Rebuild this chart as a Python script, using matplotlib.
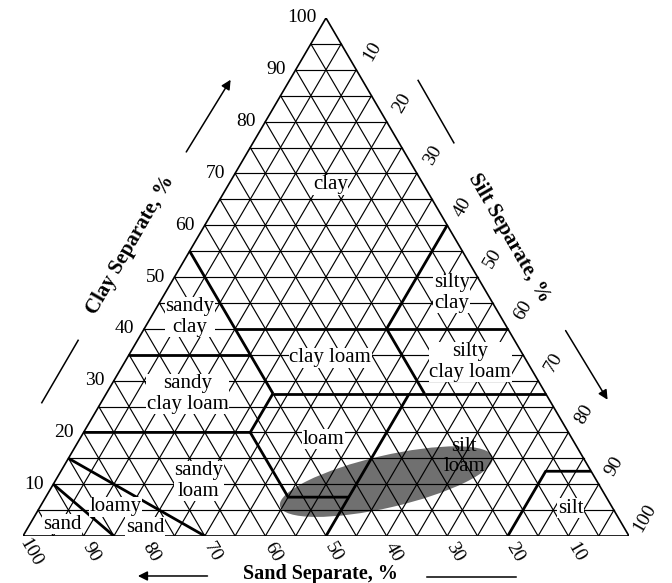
import matplotlib
matplotlib.use("Agg")
import matplotlib.pyplot as plt
from matplotlib.patches import Ellipse
import numpy as np

plt.rcParams['font.family'] = ['Liberation Serif', 'DejaVu Serif']

# ---- data (all in percent) ----
ticks = [10, 20, 30, 40, 50, 60, 70, 80, 90, 100]
grid_step = 5

# texture class boundaries, each a polyline of (sand, clay) points
boundaries = [
    [(45, 55), (45, 27.5)],
    [(65, 35), (45, 35)],
    [(45, 40), (0, 40)],
    [(0, 60), (20, 40), (20, 27.5)],
    [(45, 27.5), (0, 27.5)],
    [(45, 27.5), (52.5, 20), (80, 20)],
    [(52.5, 20), (52.5, 7.5), (42.5, 7.5)],
    [(22.5, 27.5), (50, 0)],
    [(20, 0), (7.5, 12.5), (0, 12.5)],
    [(85, 15), (70, 0)],
    [(90, 10), (85, 0)],
]

# class names and where they sit (sand, clay)
class_names = ['clay', 'sandy\nclay', 'silty\nclay', 'clay loam', 'silty\nclay loam',
               'sandy\nclay loam', 'loam', 'silt\nloam', 'sandy\nloam', 'loamy',
               'sand', 'sand', 'silt']
class_pos = [(15.4, 67.8), (51.3, 42.3), (5.8, 46.9), (32.1, 34.4), (9.4, 33.6),
             (59.1, 27.4), (41.1, 18.7), (19.5, 15.4), (65.7, 10.6), (81.9, 5.6),
             (79.0, 1.7), (92.4, 2.3), (6.9, 5.4)]

# shaded zone (sand, clay at centre; size in % of the base)
zone_center = (34.8, 10.5)
zone_size = (36.0, 8.6)
zone_angle = 13

H = 0.855  # height of the triangle relative to its base


def xy(sand, clay):
    silt = 100 - sand - clay
    return silt + clay / 2.0, clay * H


fig = plt.figure(figsize=(6.72, 5.83), dpi=100)
ax = fig.add_axes([23 / 672, 47 / 583, 606 / 672, 518 / 583])
ax.set_xlim(0, 100)
ax.set_ylim(0, 100 * H)
ax.axis('off')

# shaded zone under the grid
cx, cy = xy(*zone_center)
ax.add_patch(Ellipse((cx, cy), zone_size[0], zone_size[1], angle=zone_angle,
                     facecolor='#707070', edgecolor='none', zorder=1))

# fine grid
for k in range(grid_step, 100, grid_step):
    for a, b in [((100 - k, k), (0, k)),          # clay
                 ((k, 0), (k, 100 - k)),          # sand
                 ((100 - k, 0), (0, 100 - k))]:   # silt
        p, q = xy(*a), xy(*b)
        ax.plot([p[0], q[0]], [p[1], q[1]], color='black', lw=0.85, zorder=2)

# outline
tri = [xy(100, 0), xy(0, 0), xy(0, 100), xy(100, 0)]
ax.plot([p[0] for p in tri], [p[1] for p in tri], color='black', lw=1.2, zorder=3)

# class boundaries
for line in boundaries:
    pts = np.array([xy(s, c) for s, c in line])
    ax.plot(pts[:, 0], pts[:, 1], color='black', lw=2.0, zorder=3,
            solid_capstyle='butt')

# class labels
for name, (s, c) in zip(class_names, class_pos):
    x, y = xy(s, c)
    box = dict(facecolor='white', edgecolor='none', pad=0.5)
    if name == 'silt\nloam':
        box = None
    ax.text(x, y, name, ha='center', va='center', fontsize=15, zorder=4,
            linespacing=1.1, bbox=box)

# clay ticks on the left edge
for t in ticks:
    x, y = xy(100 - t, t)
    ax.text(x - 1.6, y, str(t), ha='right', va='center', fontsize=14)

# sand ticks along the base
for t in ticks:
    x, y = xy(t, 0)
    ax.text(x + 1.2, y - 2.7, str(t), ha='center', va='center', fontsize=14,
            rotation=-60, rotation_mode='anchor')

# silt ticks on the right edge
for t in ticks:
    x, y = xy(0, 100 - t)
    ax.text(x + 2.6, y + 3.0, str(t), ha='center', va='center', fontsize=14,
            rotation=60, rotation_mode='anchor')

# axis titles with their arrows
ax.text(17.7, 48.0, 'Clay Separate, %', rotation=60, ha='center', va='center',
        fontsize=15, fontweight='bold', rotation_mode='anchor')
ax.text(80.2, 49.2, 'Silt Separate, %', rotation=-60, ha='center', va='center',
        fontsize=15, fontweight='bold', rotation_mode='anchor')
ax.text(49.0, -6.2, 'Sand Separate, %', ha='center', va='center',
        fontsize=14.5, fontweight='bold')

arrow = dict(arrowstyle='-|>', color='black', lw=1.1, mutation_scale=14)
ax.annotate('', xy=(34.5, 75.7), xytext=(26.7, 63.0), arrowprops=arrow,
            annotation_clip=False)
ax.annotate('', xy=(96.7, 22.1), xytext=(89.3, 34.3), arrowprops=arrow,
            annotation_clip=False)
ax.annotate('', xy=(18.5, -6.6), xytext=(30.9, -6.6), arrowprops=arrow,
            annotation_clip=False)
ax.plot([3.1, 9.1], [22.0, 32.3], color='black', lw=1.1, clip_on=False)
ax.plot([65.2, 71.1], [75.2, 64.9], color='black', lw=1.1, clip_on=False)
ax.plot([66.7, 81.4], [-6.7, -6.7], color='black', lw=1.1, clip_on=False)

fig.savefig('out.png', dpi=100)
